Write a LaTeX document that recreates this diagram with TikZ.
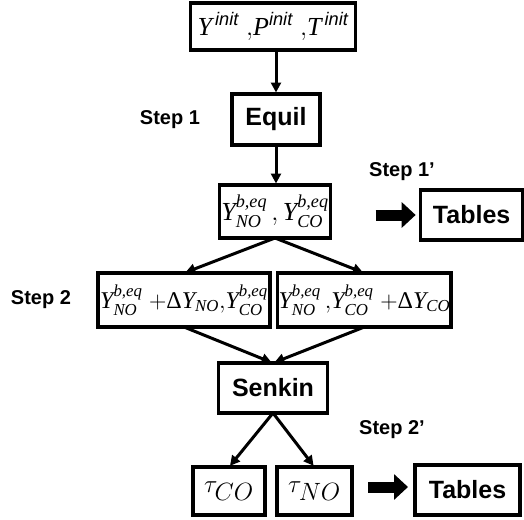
\documentclass[tikz,border=0pt]{standalone}
\usepackage{fix-cm}
\usepackage{fontspec}
\setmainfont{Liberation Serif}
\setsansfont{Liberation Sans}
\usepackage{amsmath}
\usetikzlibrary{arrows.meta, positioning}
\newcommand{\Yeq}[1]{\textit{Y}^{\textit{b,eq}}_{\textit{#1}}}
\newcommand{\ini}{\textsf{\itshape init}}

\begin{document}
\begin{tikzpicture}[x=1pt, y=-1pt,
    box/.style={rectangle, draw, line width=3.5pt, inner sep=2pt, outer sep=0pt, minimum height=50pt},
    mathbox/.style={box, font=\fontsize{26}{30}\selectfont},
    sumbox/.style={box, inner xsep=1pt, minimum height=54pt, font=\fontsize{24}{30}\selectfont},
    taubox/.style={box, inner xsep=0pt, minimum height=48pt, font=\fontsize{25}{30}\selectfont},
    namebox/.style={box, font=\sffamily\bfseries\fontsize{25}{30}\selectfont},
    steplbl/.style={inner sep=0pt, font=\sffamily\bfseries\fontsize{20}{24}\selectfont},
    arrow/.style={-{Triangle[length=10pt,width=10pt]}, line width=3pt, shorten >=1.5pt},
    fat/.style={-{Triangle[length=14pt,width=25pt]}, line width=11pt}
]
    \useasboundingbox (0,0) rectangle (524,519);
    \node[mathbox, minimum width=165pt, minimum height=47pt] (init) at (273,26.5)
        {$\textit{Y}^{\,\ini}\;{,}\textit{P}^{\ini}\;{,}\textit{T}^{\,\ini}$};
    \node[namebox, below=44pt of init, xshift=3pt, minimum width=88pt, minimum height=51pt] (equil) {Equil};
    \node[mathbox, below=40pt of equil, xshift=-1pt, minimum width=106pt, minimum height=53pt] (ybase)
        {$\Yeq{NO}\,,\Yeq{CO}$};
    \node[sumbox, below=35pt of ybase, xshift=-91pt, minimum width=172pt] (dleft)
        {$\Yeq{NO}\;{+}\text{Δ}\textit{Y}_{\textit{NO}}{,}\Yeq{CO}$};
    \node[sumbox, right=7.5pt of dleft, minimum width=167pt] (dright)
        {$\Yeq{NO}\,{,}\Yeq{CO}\;{+}\text{Δ}\textit{Y}_{\textit{CO}}$};
    \node[namebox, below=36pt of dleft.south east, xshift=3pt, minimum width=109pt] (senkin) {Senkin};
    \node[taubox, below=54pt of senkin, xshift=-44pt, minimum width=72pt] (tauco) {$\tau_{\textstyle CO}$};
    \node[taubox, right=12pt of tauco, minimum width=75pt] (tauno) {$\tau_{\textstyle NO}$};
    \node[namebox, right=90pt of ybase, yshift=-3.5pt, minimum width=102pt] (tab1) {Tables};
    \node[namebox, right=63pt of tauno, yshift=1pt, minimum width=105pt] (tab2) {Tables};
    % step labels
    \node[steplbl] (s1) at (170,120) {Step 1};
    \node[steplbl] (s1p) at (402,172) {Step 1'};
    \node[steplbl] (s2) at (41,300) {Step 2};
    \node[steplbl] (s2p) at (392,430) {Step 2'};
    % connectors
    \draw[arrow] (init.south -| equil.north) -- (equil.north);
    \draw[arrow] (equil.south) -- (equil.south |- ybase.north);
    \draw[arrow] (ybase.south) -- (dleft.north);
    \draw[arrow] (ybase.south) -- (dright.north);
    \draw[arrow] (dleft.south) -- (senkin.north);
    \draw[arrow] (dright.south) -- (senkin.north);
    \draw[arrow] (senkin.south) -- (tauco.north);
    \draw[arrow] (senkin.south) -- (tauno.north);
    \draw[fat] ([xshift=45pt,yshift=-3.5pt]ybase.east) -- ([xshift=-5pt]tab1.west);
    \draw[fat] ([xshift=16pt,yshift=4pt]tauno.east) -- ([xshift=-7pt,yshift=3pt]tab2.west);
\end{tikzpicture}
\end{document}
